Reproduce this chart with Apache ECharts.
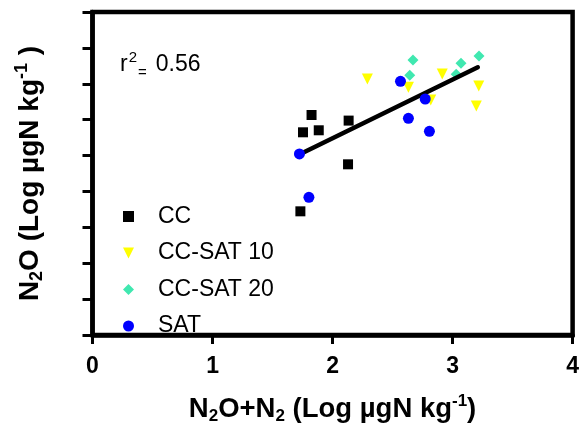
<!DOCTYPE html>
<html>
<head>
<meta charset="utf-8">
<script src="https://cdn.jsdelivr.net/npm/echarts@6/dist/echarts.min.js"></script>
<style>
html,body{margin:0;padding:0;background:#fff;}
#c{width:582px;height:430px;}
</style>
</head>
<body>
<div id="c"></div>
<script>
// ---- data ----
var seriesNames = ['CC', 'CC-SAT 10', 'CC-SAT 20', 'SAT'];
var ccX = [1.825, 1.754, 1.885, 2.134, 2.129, 1.732];
var ccY = [3.065, 2.824, 2.852, 2.987, 2.378, 1.723];
var sat10X = [2.290, 2.632, 2.914, 2.818, 3.218, 3.198];
var sat10Y = [3.567, 3.451, 3.637, 3.274, 3.470, 3.191];
var sat20X = [2.670, 2.643, 3.070, 3.220, 3.030];
var sat20Y = [3.832, 3.618, 3.785, 3.888, 3.631];
var satX = [1.724, 1.803, 2.566, 2.772, 2.632, 2.807];
var satY = [2.522, 1.918, 3.535, 3.288, 3.019, 2.838];
var fitX = [1.74, 3.21];
var fitY = [2.53, 3.73];
var xTicks = [0, 1, 2, 3, 4];
var rSquared = '0.56';

function pairs(xs, ys) { return xs.map(function (x, i) { return [x, ys[i]]; }); }

var FONT = 'Liberation Sans, Arial, sans-serif';
var chart = echarts.init(document.getElementById('c'), null, {renderer: 'canvas'});

var triDown = 'path://M0,0L2,0L1,2Z';

var option = {
  animation: false,
  grid: {
    left: 92.5, right: 3, top: 12, bottom: 95,
    show: true, borderColor: '#000', borderWidth: 4.5, backgroundColor: 'transparent'
  },
  xAxis: {
    type: 'value', min: xTicks[0], max: xTicks[xTicks.length - 1], interval: 1,
    axisLine: {onZero: false, lineStyle: {color: '#000', width: 4.5}},
    axisTick: {inside: false, length: 9, lineStyle: {color: '#000', width: 3}},
    axisLabel: {color: '#000', fontFamily: FONT, fontWeight: 'bold', fontSize: 23, margin: 20},
    splitLine: {show: false},
    name: '{b|N}{s|2}{b|O+N}{s|2}{b| (Log µgN kg}{p|-1}{b|)}',
    nameLocation: 'middle', nameGap: 58,
    nameTextStyle: {
      fontFamily: FONT, color: '#000',
      rich: {
        b: {fontFamily: FONT, fontWeight: 'bold', fontSize: 27.5, color: '#000', lineHeight: 32},
        s: {fontFamily: FONT, fontWeight: 'bold', fontSize: 17, color: '#000', verticalAlign: 'bottom', lineHeight: 17},
        p: {fontFamily: FONT, fontWeight: 'bold', fontSize: 17, color: '#000', verticalAlign: 'top', lineHeight: 17}
      }
    }
  },
  yAxis: {
    type: 'value', min: 0, max: 4.5, interval: 0.5,
    axisLine: {onZero: false, lineStyle: {color: '#000', width: 4.5}},
    axisTick: {inside: false, length: 10, lineStyle: {color: '#000', width: 3}},
    axisLabel: {show: false},
    splitLine: {show: false},
    name: '{b|N}{s|2}{b|O (Log µgN kg}{p|-1}{b| )}',
    nameLocation: 'middle', nameGap: 46,
    nameTextStyle: {
      fontFamily: FONT, color: '#000',
      rich: {
        b: {fontFamily: FONT, fontWeight: 'bold', fontSize: 28, color: '#000', lineHeight: 33},
        s: {fontFamily: FONT, fontWeight: 'bold', fontSize: 18, color: '#000', verticalAlign: 'bottom', lineHeight: 18},
        p: {fontFamily: FONT, fontWeight: 'bold', fontSize: 18, color: '#000', verticalAlign: 'top', lineHeight: 18}
      }
    }
  },
  legend: {
    orient: 'vertical', left: 123, top: 205, padding: 0,
    itemWidth: 11, itemHeight: 11, itemGap: 13.5,
    data: seriesNames,
    textStyle: {fontFamily: FONT, fontSize: 23, color: '#000', lineHeight: 22, padding: [0, 0, 0, 19]}
  },
  graphic: [{
    type: 'text', left: 120, top: 50, z: 10,
    style: {
      text: '{a|r}{p|2}{s|=}{n|' + rSquared + '}',
      rich: {
        a: {fontFamily: FONT, fontSize: 23, fill: '#000', lineHeight: 30},
        n: {fontFamily: FONT, fontSize: 23, fill: '#000', lineHeight: 30, padding: [0, 0, 0, 9]},
        p: {fontFamily: FONT, fontSize: 15, fill: '#000', verticalAlign: 'top', lineHeight: 15, padding: [0, 1, 0, 1]},
        s: {fontFamily: FONT, fontSize: 15, fill: '#000', verticalAlign: 'bottom', lineHeight: 15}
      }
    }
  }],
  series: [
    {name: seriesNames[0], type: 'scatter', symbol: 'rect', symbolSize: 10,
     itemStyle: {color: '#000', opacity: 1}, data: pairs(ccX, ccY), z: 2},
    {name: seriesNames[2], type: 'scatter', symbol: 'diamond', symbolSize: 11,
     itemStyle: {color: '#40E8B0', opacity: 1}, data: pairs(sat20X, sat20Y), z: 2},
    {name: seriesNames[1], type: 'scatter', symbol: triDown, symbolSize: 11,
     itemStyle: {color: '#FFFF00', opacity: 1}, data: pairs(sat10X, sat10Y), z: 2},
    {name: 'fit', type: 'line', data: pairs(fitX, fitY), showSymbol: false, symbol: 'none',
     lineStyle: {color: '#000', width: 4.5, cap: 'round'}, z: 3, legendHoverLink: false},
    {name: seriesNames[3], type: 'scatter', symbol: 'circle', symbolSize: 11,
     itemStyle: {color: '#0000FF', opacity: 1}, data: pairs(satX, satY), z: 4}
  ]
};
chart.setOption(option);
</script>
</body>
</html>
